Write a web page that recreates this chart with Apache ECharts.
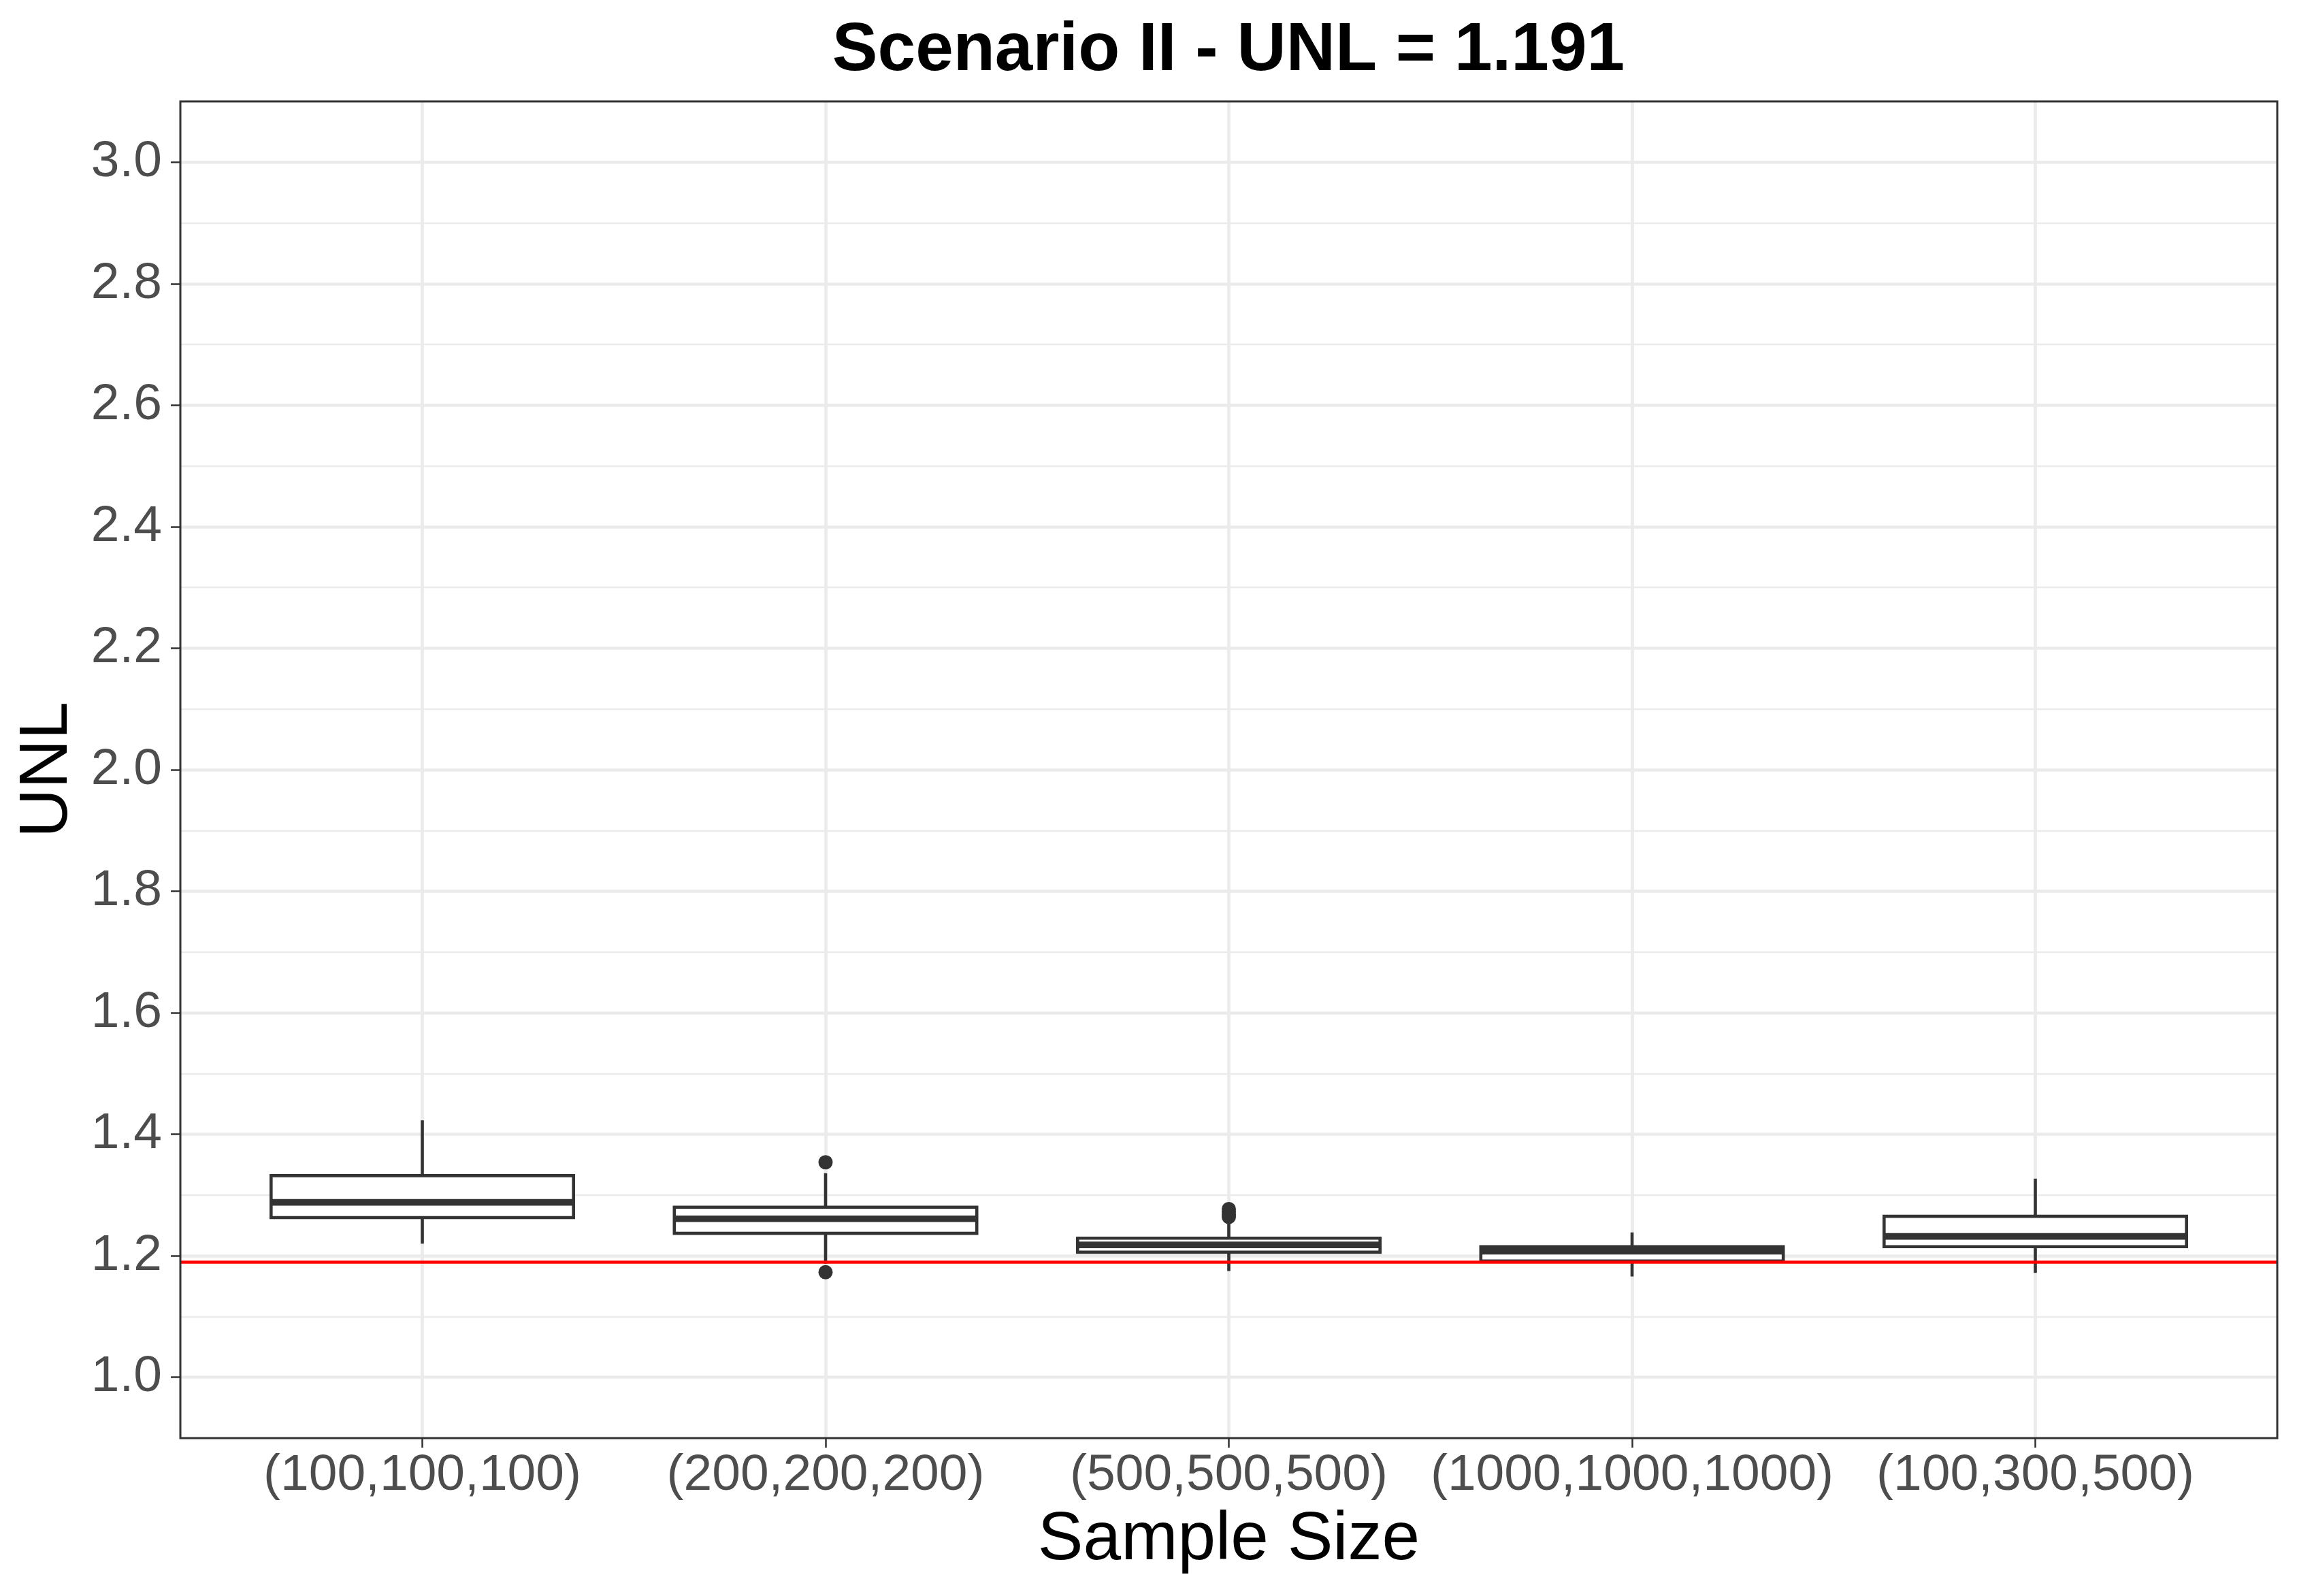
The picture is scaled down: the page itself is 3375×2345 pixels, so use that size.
<!DOCTYPE html>
<html>
<head>
<meta charset="utf-8">
<title>Scenario II - UNL</title>
<script src="https://cdn.jsdelivr.net/npm/echarts@6/dist/echarts.min.js"></script>
<style>
    html, body { margin: 0; padding: 0; background: #fff; }
    #chart { width: 3375px; height: 2345px; }
</style>
</head>
<body>
<div id="chart"></div>
<script>
var categories = ['(100,100,100)', '(200,200,200)', '(500,500,500)', '(1000,1000,1000)', '(100,300,500)'];

// box stats per sample size
var whiskerLow = [1.220, 1.187, 1.175, 1.166, 1.172];
var q1 = [1.263, 1.237, 1.206, 1.1915, 1.215];
var median = [1.288, 1.261, 1.218, 1.2075, 1.232];
var q3 = [1.332, 1.280, 1.229, 1.215, 1.265];
var whiskerHigh = [1.423, 1.336, 1.253, 1.2385, 1.327];

// outliers: category position (1..5) and value
var outlierX = [2, 2, 3, 3, 3, 3];
var outlierY = [1.354, 1.173, 1.277, 1.2725, 1.268, 1.264];

var unl = 1.191;
var yTicks = [1.0, 1.2, 1.4, 1.6, 1.8, 2.0, 2.2, 2.4, 2.6, 2.8, 3.0];
var xTicks = [1, 2, 3, 4, 5];

var FONT = "'Liberation Sans', Arial, sans-serif";
var INK = '#333333';

var boxData = [];
for (var i = 0; i < categories.length; i++) {
    boxData.push([i + 1, whiskerLow[i], q1[i], median[i], q3[i], whiskerHigh[i]]);
}
var outlierData = [];
for (var j = 0; j < outlierX.length; j++) {
    outlierData.push([outlierX[j], outlierY[j]]);
}

var renderBox = function (params, api) {
    var x = api.value(0);
    var pMin = api.coord([x, api.value(1)]);
    var pQ1 = api.coord([x, api.value(2)]);
    var pMed = api.coord([x, api.value(3)]);
    var pQ3 = api.coord([x, api.value(4)]);
    var pMax = api.coord([x, api.value(5)]);
    var half = api.size([0.75, 0])[0] / 2;
    var cx = pMed[0];
    var lineStyle = { stroke: INK, lineWidth: 4.6 };
    return {
        type: 'group',
        children: [
            { type: 'line', shape: { x1: cx, y1: pQ3[1], x2: cx, y2: pMax[1] }, style: lineStyle },
            { type: 'line', shape: { x1: cx, y1: pQ1[1], x2: cx, y2: pMin[1] }, style: lineStyle },
            {
                type: 'rect',
                shape: { x: cx - half, y: pQ3[1], width: half * 2, height: pQ1[1] - pQ3[1] },
                style: { fill: '#ffffff', stroke: INK, lineWidth: 4.6 }
            },
            { type: 'line', shape: { x1: cx - half, y1: pMed[1], x2: cx + half, y2: pMed[1] }, style: { stroke: INK, lineWidth: 9.6 } }
        ]
    };
};

var myChart = echarts.init(document.getElementById('chart'));

var option = {
    backgroundColor: '#ffffff',
    animation: false,
    title: {
        text: 'Scenario II - UNL = 1.191',
        left: 1805,
        top: 25,
        padding: 0,
        textAlign: 'center',
        textStyle: { fontFamily: FONT, fontSize: 100, fontWeight: 'bold', color: '#000000' }
    },
    grid: {
        left: 265,
        right: 29,
        top: 149,
        bottom: 232,
        show: true,
        z: 10,
        backgroundColor: 'transparent',
        borderColor: INK,
        borderWidth: 3,
        outerBoundsMode: 'none'
    },
    xAxis: {
        type: 'value',
        min: 0.4,
        max: 5.6,
        splitNumber: 5,
        name: 'Sample Size',
        nameLocation: 'middle',
        nameGap: 100,
        nameTextStyle: { fontFamily: FONT, fontSize: 100, color: '#000000' },
        axisLine: { show: false },
        axisTick: { show: true, length: 14, customValues: xTicks, lineStyle: { color: INK, width: 2.5 } },
        axisLabel: {
            customValues: xTicks,
            margin: 18,
            fontFamily: FONT,
            fontSize: 75,
            color: '#4d4d4d',
            formatter: function (v) {
                var k = Math.round(v);
                return (Math.abs(v - k) < 1e-6 && categories[k - 1]) ? categories[k - 1] : '';
            }
        },
        splitLine: { show: true, lineStyle: { color: '#ebebeb', width: 4.7 } }
    },
    yAxis: {
        type: 'value',
        min: 0.9,
        max: 3.1,
        splitNumber: 11,
        name: 'UNL',
        nameLocation: 'middle',
        nameGap: 145,
        nameRotate: 90,
        nameTextStyle: { fontFamily: FONT, fontSize: 100, color: '#000000' },
        axisLine: { show: false },
        axisTick: { show: true, length: 14, customValues: yTicks, lineStyle: { color: INK, width: 2.5 } },
        axisLabel: {
            customValues: yTicks,
            margin: 27,
            fontFamily: FONT,
            fontSize: 75,
            color: '#4d4d4d',
            formatter: function (v) { return v.toFixed(1); }
        },
        splitLine: { show: true, lineStyle: { color: '#ebebeb', width: 4.7 } },
        minorTick: { show: false, splitNumber: 2 },
        minorSplitLine: { show: true, lineStyle: { color: '#ebebeb', width: 2.3 } }
    },
    series: [
        {
            type: 'custom',
            name: 'box',
            z: 2,
            silent: true,
            renderItem: renderBox,
            encode: { x: 0, y: [1, 2, 3, 4, 5] },
            data: boxData
        },
        {
            type: 'scatter',
            name: 'outliers',
            z: 3,
            silent: true,
            symbol: 'circle',
            symbolSize: 21,
            itemStyle: { color: INK, opacity: 1 },
            data: outlierData,
            markLine: {
                z: 5,
                silent: true,
                symbol: ['none', 'none'],
                label: { show: false },
                lineStyle: { color: '#ff0000', width: 4.7, type: 'solid' },
                emphasis: { disabled: true },
                data: [{ yAxis: unl }]
            }
        }
    ]
};

myChart.setOption(option);
</script>
</body>
</html>
